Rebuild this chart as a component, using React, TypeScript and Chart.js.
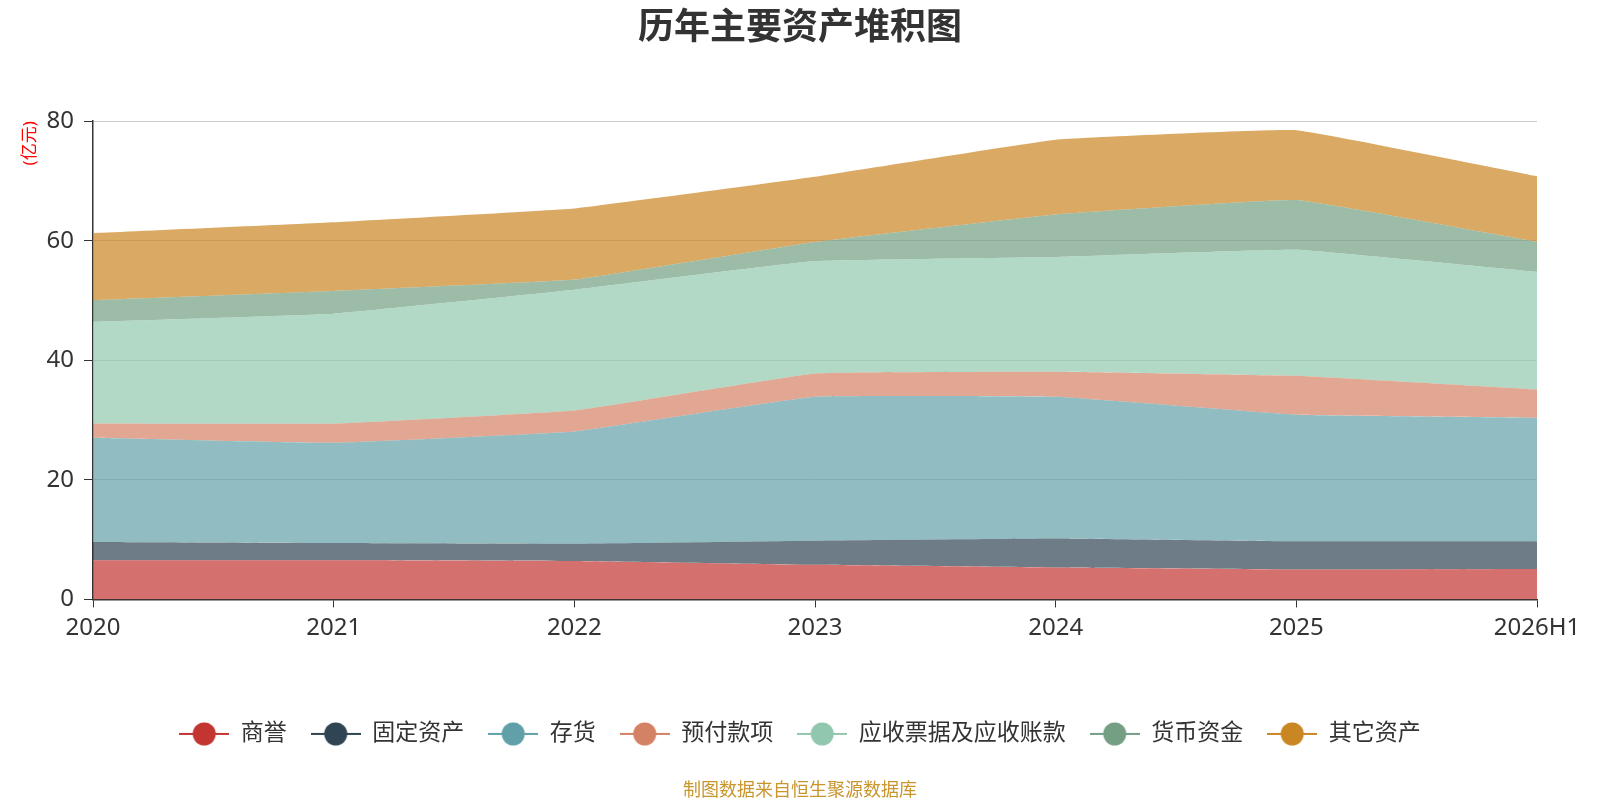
import { useEffect, useRef } from "react";
import { Chart, registerables, type ChartConfiguration } from "chart.js";

Chart.register(...registerables);

const years = ["2020", "2021", "2022", "2023", "2024", "2025", "2026H1"];

// 单位：亿元
const goodwill = [6.56, 6.56, 6.44, 5.78, 5.33, 5.0, 5.1];
const fixedAssets = [3.05, 2.88, 2.89, 4.05, 4.87, 4.72, 4.6];
const inventory = [17.45, 16.76, 18.77, 24.07, 23.7, 21.18, 20.7];
const prepayments = [2.38, 3.2, 3.5, 3.9, 4.2, 6.5, 4.7];
const receivables = [17.0, 18.4, 20.2, 18.8, 19.2, 21.1, 19.7];
const cash = [3.62, 3.8, 1.7, 3.2, 7.1, 8.3, 5.0];
const otherAssets = [11.22, 11.5, 11.9, 10.9, 12.5, 11.7, 11.0];

const seriesNames = [
  "商誉",
  "固定资产",
  "存货",
  "预付款项",
  "应收票据及应收账款",
  "货币资金",
  "其它资产",
];
const seriesValues = [
  goodwill,
  fixedAssets,
  inventory,
  prepayments,
  receivables,
  cash,
  otherAssets,
];
const seriesColors = [
  "#c23531",
  "#2f4554",
  "#61a0a8",
  "#d48265",
  "#91c7ae",
  "#749f83",
  "#ca8622",
];

const yTicks = [0, 20, 40, 60, 80];

const FONT = '"Noto Sans", "Noto Sans CJK SC", sans-serif';

function withAlpha(hex: string, alpha: number) {
  const r = parseInt(hex.slice(1, 3), 16);
  const g = parseInt(hex.slice(3, 5), 16);
  const b = parseInt(hex.slice(5, 7), 16);
  return `rgba(${r}, ${g}, ${b}, ${alpha})`;
}

function legendIcon(color: string) {
  const icon = document.createElement("canvas");
  icon.width = 50;
  icon.height = 24;
  const ctx = icon.getContext("2d");
  if (ctx) {
    ctx.strokeStyle = color;
    ctx.lineWidth = 2;
    ctx.beginPath();
    ctx.moveTo(0, 12);
    ctx.lineTo(50, 12);
    ctx.stroke();
    ctx.fillStyle = color;
    ctx.beginPath();
    ctx.arc(25, 12, 11.5, 0, Math.PI * 2);
    ctx.fill();
  }
  return icon;
}

export default function App() {
  const canvasRef = useRef<HTMLCanvasElement | null>(null);

  useEffect(() => {
    const canvas = canvasRef.current;
    if (!canvas) return;

    const configuration: ChartConfiguration<"line"> = {
      type: "line",
      data: {
        labels: years,
        datasets: seriesNames.map((name, index) => ({
          label: name,
          data: seriesValues[index],
          backgroundColor: withAlpha(seriesColors[index], 0.7),
          borderColor: "rgba(0,0,0,0)",
          borderWidth: 0,
          pointRadius: 0,
          pointHoverRadius: 0,
          pointStyle: legendIcon(seriesColors[index]),
          fill: index === 0 ? "origin" : "-1",
          tension: 0.08,
        })),
      },
      options: {
        responsive: false,
        animation: false,
        layout: {
          padding: 0,
        },
        plugins: {
          title: {
            display: true,
            text: "历年主要资产堆积图",
            color: "#333",
            font: { family: FONT, size: 36, weight: "bold" },
            padding: { top: 7, bottom: 71 },
          },
          subtitle: {
            display: true,
            position: "bottom",
            text: "制图数据来自恒生聚源数据库",
            color: "#c9952d",
            font: { family: FONT, size: 18, lineHeight: 1 },
            padding: { top: 26.6, bottom: 0 },
          },
          legend: {
            position: "bottom",
            labels: {
              usePointStyle: true,
              pointStyleWidth: 50,
              padding: 24,
              color: "#333",
              font: { family: FONT, size: 23 },
            },
          },
          tooltip: { enabled: false },
        },
        scales: {
          x: {
            afterFit(scale) {
              scale.height = 99;
            },
            grid: {
              display: true,
              drawOnChartArea: false,
              drawTicks: true,
              tickLength: 8,
              tickColor: "#333",
            },
            border: { display: true, color: "#333", width: 1.5 },
            ticks: {
              color: "#333",
              padding: 6,
              maxRotation: 0,
              font: { family: FONT, size: 24 },
            },
          },
          y: {
            stacked: true,
            min: yTicks[0],
            max: yTicks[yTicks.length - 1],
            afterFit(scale) {
              scale.width = 93;
            },
            afterBuildTicks(scale) {
              scale.ticks = yTicks.map((value) => ({ value }));
            },
            grid: {
              color: "#ccc",
              tickColor: "#333",
              tickLength: 9,
            },
            border: { display: true, color: "#333", width: 1.5 },
            ticks: {
              color: "#333",
              padding: 10,
              font: { family: FONT, size: 24 },
            },
            title: {
              display: true,
              text: "(亿元)",
              align: "end",
              color: "#ff0000",
              font: { family: FONT, size: 17 },
              padding: { top: 20, bottom: 0 },
            },
          },
          // empty right-hand axis, only reserves space on the right of the plot
          spacer: {
            position: "right",
            display: true,
            afterFit(scale) {
              scale.width = 63;
            },
            grid: { display: false },
            border: { display: false },
            ticks: { display: false },
          },
        },
      },
    };

    const chart = new Chart(canvas, configuration);
    return () => {
      chart.destroy();
    };
  }, []);

  return (
    <div
      style={{
        position: "fixed",
        left: 0,
        top: 0,
        width: 1600,
        height: 800,
        background: "#fff",
      }}
    >
      <canvas
        ref={canvasRef}
        width={1600}
        height={800}
        role="img"
        aria-label="历年主要资产堆积图"
      />
    </div>
  );
}
